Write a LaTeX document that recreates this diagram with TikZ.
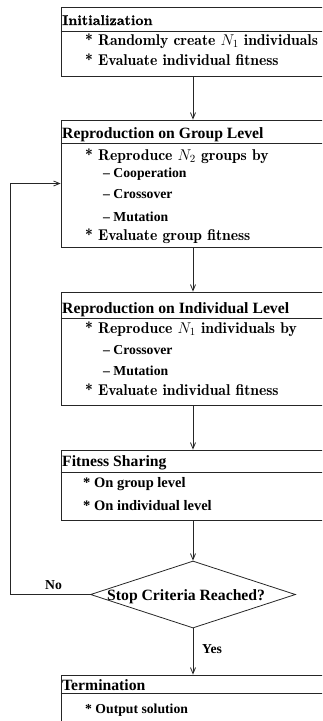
\RequirePackage{fix-cm}
\documentclass[tikz,border=0pt]{standalone}
\usepackage{fontspec}
\newfontfamily\tms{Liberation Serif}[Ligatures=TeX]
\newfontfamily\lmd{lmromandemi10-regular.otf}
\newfontfamily\lmb{lmroman10-bold.otf}[FakeBold=1.2]
\usetikzlibrary{math,shapes.geometric,arrows.meta}

\begin{document}
\begin{tikzpicture}[x=1pt, y=-1pt]

	\tikzmath{
		\colx = 193;   % axe des fleches
		\titx = 62;    % debut des titres
		\itx = 85;     % debut des lignes
		\subx = 103;   % debut des sous-lignes
	}

	\useasboundingbox (0,0) rectangle (322,721);
	\clip (0,0) rectangle (322,721);

	\tikzset{
		box/.style={draw=black!85, line width=0.8pt, minimum width=264pt, inner sep=0pt},
		sep/.style={draw=black!85, line width=0.8pt},
		flow/.style={draw=black!85, line width=0.8pt, -{Straight Barb[length=6pt,width=5pt]}},
		ttlcm/.style={anchor=base west, inner sep=0pt, font=\lmb\fontsize{14.1}{16}\selectfont},
		ttl/.style={anchor=base west, inner sep=0pt, font=\tms\bfseries\fontsize{15.7}{18}\selectfont},
		itm/.style={anchor=base west, inner sep=0pt, font=\lmd\fontsize{15.6}{18}\selectfont},
		sub/.style={anchor=base west, inner sep=0pt, font=\tms\bfseries\fontsize{13.7}{16}\selectfont},
		subl/.style={anchor=base west, inner sep=0pt, font=\tms\bfseries\fontsize{14.5}{16}\selectfont}
	}

	% cadres
	\node[box, minimum height=69pt]  (init) at (\colx, 41.5)  {};
	\node[box, minimum height=127pt] (grp)  at (\colx, 183.5) {};
	\node[box, minimum height=113pt] (ind)  at (\colx, 348.5) {};
	\node[box, minimum height=70pt]  (fit)  at (\colx, 485)   {};
	\node[box, minimum height=80pt]  (term) at (\colx, 715)   {};

	% traits sous les titres
	\foreach \n/\y in {init/31, grp/143, ind/318, fit/472, term/693}{
			\draw[sep] (\n.west |- 0,\y) -- (\n.east |- 0,\y);
		}

	% titres
	\node[ttlcm] (initT) at (\titx, 25)  {Initialization};
	\node[ttl]   (grpT)  at (\titx, 138) {Reproduction on Group Level};
	\node[ttl]   (indT)  at (\titx, 313) {Reproduction on Individual Level};
	\node[ttl]   (fitT)  at (\titx, 466) {Fitness Sharing};
	\node[ttl]   (termT) at (\titx, 690) {Termination};

	% Initialization
	\node[itm] (init1) at (\itx, 45) {* Randomly create $N_1$ individuals};
	\node[itm] (init2) at (\itx, 65) {* Evaluate individual fitness};

	% Group Level
	\node[itm] (grp1) at (\itx, 160)  {* Reproduce $N_2$ groups by};
	\node[sub] (grp2) at (\subx, 177) {-- Cooperation};
	\node[sub] (grp3) at (\subx, 198) {-- Crossover};
	\node[sub] (grp4) at (\subx, 221) {-- Mutation};
	\node[itm] (grp5) at (\itx, 240)  {* Evaluate group fitness};

	% Individual Level
	\node[itm] (ind1) at (\itx, 333)  {* Reproduce $N_1$ individuals by};
	\node[sub] (ind2) at (\subx, 354) {-- Crossover};
	\node[sub] (ind3) at (\subx, 375) {-- Mutation};
	\node[itm] (ind4) at (\itx, 395)  {* Evaluate individual fitness};

	% Fitness Sharing
	\node[subl] (fit1) at (83, 487) {* On group level};
	\node[subl] (fit2) at (83, 510) {* On individual level};

	% Termination
	\node[sub] (term1) at (\itx, 713) {* Output solution};

	% test d'arret
	\node[diamond, draw=black!85, line width=0.8pt, inner sep=0pt,
		minimum width=205pt, minimum height=67pt] (stop) at (\colx, 594.5) {};
	\node[ttl] (stopT) at (107, 600) {Stop Criteria Reached?};

	% fleches
	\foreach \a/\b in {init/grp, grp/ind, ind/fit, fit/stop, stop/term}{
			\draw[flow] (\a) -- (\b);
		}

	\coordinate (back) at (10, 594.5);
	\draw[flow] (stop.west) -- (back) |- (grp.west);

	\node[sub] (no)  at (45, 589)  {No};
	\node[sub] (yes) at (202, 653) {Yes};

\end{tikzpicture}
\end{document}
